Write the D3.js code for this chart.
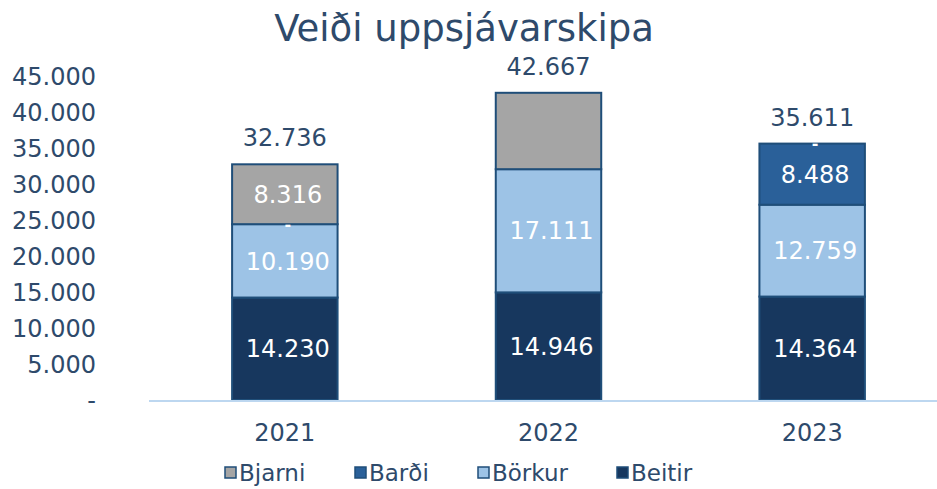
<!DOCTYPE html>
<html>
<head>
<meta charset="utf-8">
<script src="https://cdn.jsdelivr.net/npm/d3@7/dist/d3.min.js"></script>
<style>
  body { margin: 0; background: #fff; }
  svg { display: block; font-family: "DejaVu Sans", Verdana, sans-serif; }
</style>
</head>
<body>
<svg id="chart" width="937" height="489"></svg>
<script>
// --- data ---
const years = ['2021', '2022', '2023'];
const beitir = [14230, 14946, 14364];
const borkur = [10190, 17111, 12759];
const bardi  = [0, null, 8488];
const bjarni = [8316, 10610, 0];
const totals = [32736, 42667, 35611];
const yTicks = [0, 5000, 10000, 15000, 20000, 25000, 30000, 35000, 40000, 45000];

// series bottom -> top; label on/off per series
const series = [
  { key: 'Beitir', values: beitir, color: '#17375e', labels: [true, true, true] },
  { key: 'Börkur', values: borkur, color: '#9dc3e6', labels: [true, true, true] },
  { key: 'Barði',  values: bardi,  color: '#2a6099', labels: [true, false, true] },
  { key: 'Bjarni', values: bjarni, color: '#a5a5a5', labels: [true, false, true] },
];
const legendOrder = ['Bjarni', 'Barði', 'Börkur', 'Beitir'];

const TEXT = '#2e4a6b';
const STROKE = '#1f4e79';
const FS = 24;
const fmt = v => v === 0 ? '-' : d3.format(',')(v).replace(/,/g, '.');

const svg = d3.select('#chart');

const x = d3.scaleBand().domain(years).range([153, 944]).paddingInner(0.6).paddingOuter(0.3);
const y = d3.scaleLinear().domain([0, 45000]).range([400, 76]);

// title
svg.append('text')
  .attr('x', 464).attr('y', 41)
  .attr('text-anchor', 'middle')
  .attr('font-size', 37)
  .attr('fill', TEXT)
  .text('Veiði uppsjávarskipa');

// y axis labels (no line, no gridlines)
svg.append('g').selectAll('text').data(yTicks).join('text')
  .attr('x', 96).attr('y', d => y(d))
  .attr('dy', '0.36em')
  .attr('text-anchor', 'end')
  .attr('font-size', FS)
  .attr('fill', TEXT)
  .text(fmt);

// stack
const rows = years.map((yr, i) => {
  const r = { year: yr };
  series.forEach(s => r[s.key] = s.values[i] ?? 0);
  return r;
});
const stacked = d3.stack().keys(series.map(s => s.key))(rows);

const bars = svg.append('g');
stacked.forEach((layer, li) => {
  const s = series[li];
  bars.append('g').selectAll('rect').data(layer).join('rect')
    .attr('x', d => x(d.data.year))
    .attr('width', x.bandwidth())
    .attr('y', d => y(d[1]))
    .attr('height', d => y(d[0]) - y(d[1]))
    .attr('fill', s.color)
    .attr('stroke', STROKE)
    .attr('stroke-width', 2)
    .attr('display', d => d[1] - d[0] > 0 ? null : 'none');
});

// axis baseline
svg.append('line')
  .attr('x1', 149).attr('x2', 937)
  .attr('y1', y(0) + 1).attr('y2', y(0) + 1)
  .attr('stroke', '#bdd7f0').attr('stroke-width', 2);

// segment labels
const lab = svg.append('g');
stacked.forEach((layer, li) => {
  const s = series[li];
  layer.forEach((d, i) => {
    const v = s.values[i];
    if (v == null || !s.labels[i]) return;
    lab.append('text')
      .attr('x', x(d.data.year) + x.bandwidth() / 2 + 3)
      .attr('y', y((d[0] + d[1]) / 2))
      .attr('dy', '0.36em')
      .attr('text-anchor', 'middle')
      .attr('font-size', v === 0 ? 16 : FS)
      .attr('font-weight', v === 0 ? 'bold' : null)
      .attr('fill', '#fff')
      .text(fmt(v));
  });
});

// totals
svg.append('g').selectAll('text').data(years).join('text')
  .attr('x', d => x(d) + x.bandwidth() / 2)
  .attr('y', (d, i) => y(totals[i]) - 18)
  .attr('text-anchor', 'middle')
  .attr('font-size', FS)
  .attr('fill', TEXT)
  .text((d, i) => fmt(totals[i]));

// x labels
svg.append('g').selectAll('text').data(years).join('text')
  .attr('x', d => x(d) + x.bandwidth() / 2)
  .attr('y', 441)
  .attr('text-anchor', 'middle')
  .attr('font-size', FS)
  .attr('fill', TEXT)
  .text(d => d);

// legend
const legX = [225, 355, 478, 617];
const leg = svg.append('g').selectAll('g').data(legendOrder).join('g')
  .attr('transform', (d, i) => `translate(${legX[i]},481)`);
leg.append('rect')
  .attr('x', 0).attr('y', -14).attr('width', 11).attr('height', 11)
  .attr('fill', d => series.find(s => s.key === d).color)
  .attr('stroke', STROKE).attr('stroke-width', 1.5);
leg.append('text')
  .attr('x', 14)
  .attr('font-size', 23)
  .attr('fill', TEXT)
  .text(d => d);
</script>
</body>
</html>
